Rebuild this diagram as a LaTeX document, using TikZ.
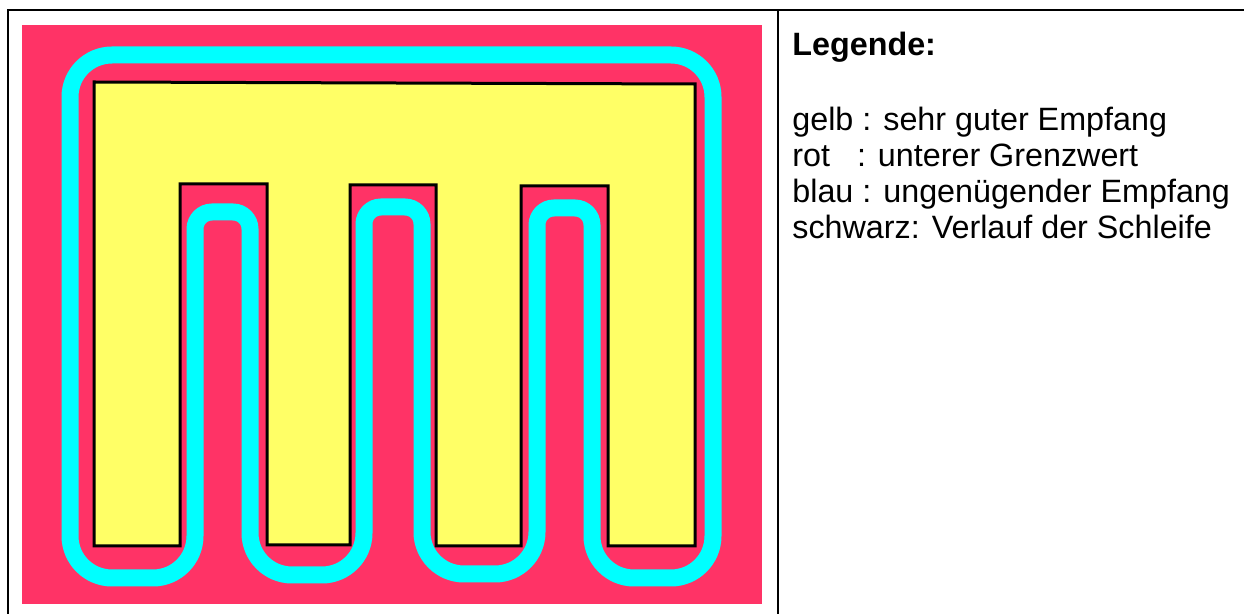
\documentclass[tikz,border=0pt]{standalone}
\usepackage{fontspec}
\setmainfont{Liberation Sans}
\usetikzlibrary{positioning}
\definecolor{MyRed}{HTML}{FF3366}
\definecolor{MyYellow}{HTML}{FFFF66}
\definecolor{MyCyan}{HTML}{00FFFF}

\begin{document}
\begin{tikzpicture}[
        x=0.5pt, y=-0.5pt,
        frame/.style = {line width=1.4pt, black},
        room/.style = {fill=MyRed},
        field/.style = {fill=MyYellow, draw=black, line width=1.5pt},
        loopline/.style = {draw=MyCyan, line width=8.5pt},
        legtext/.style = {anchor=base west, inner sep=0pt,
            font=\fontsize{16.15pt}{18pt}\selectfont},
    ]
    \useasboundingbox (0,0) rectangle (1244,614);
    % Tabellenrahmen
    \draw[frame] (8,614) -- (8,10) -- (1244,10);
    \draw[frame] (778,10) -- (778,614);
    % Raum und Empfangsbereiche
    \fill[room] (22,25) rectangle (762,604);
    \draw[field] (94,82) -- (695,84) -- (695,546) -- (608,546) -- (608,186)
        -- (521,186) -- (521,546) -- (436,546) -- (436,185) -- (350,185)
        -- (350,545) -- (267,545) -- (267,184) -- (180,184) -- (180,546)
        -- (94,546) -- cycle;
    % Schleife
    \draw[loopline] (70,97) arc[start angle=180, end angle=270, radius=42]
        -- (671,55) arc[start angle=270, end angle=360, radius=42]
        -- (713,536) arc[start angle=0, end angle=90, radius=42]
        -- (634,578) arc[start angle=90, end angle=180, radius=42]
        -- (592,225) arc[start angle=0, end angle=-90, radius=17]
        -- (554,208) arc[start angle=270, end angle=180, radius=17]
        -- (537,532) arc[start angle=0, end angle=90, radius=42]
        -- (464,574) arc[start angle=90, end angle=180, radius=42]
        -- (422,224) arc[start angle=0, end angle=-90, radius=17]
        -- (381,207) arc[start angle=270, end angle=180, radius=17]
        -- (364,533) arc[start angle=0, end angle=90, radius=42]
        -- (292,575) arc[start angle=90, end angle=180, radius=42]
        -- (250,229) arc[start angle=0, end angle=-90, radius=17]
        -- (212,212) arc[start angle=270, end angle=180, radius=17]
        -- (195,536) arc[start angle=0, end angle=90, radius=42]
        -- (112,578) arc[start angle=90, end angle=180, radius=42]
        -- cycle;
    % Legende
    \node[legtext, font=\fontsize{16.15pt}{18pt}\selectfont\bfseries]
        (title) at (792,56) {Legende:};
    \foreach \txt [count=\i] in {{gelb : sehr guter Empfang},
            {rot\ \ \ : unterer Grenzwert},
            {blau : ungenügender Empfang},
            {schwarz: Verlauf der Schleife}}
        \node[legtext] (L-\i) at (792,{131+35.7*(\i-1)}) {\txt};
\end{tikzpicture}
\end{document}
